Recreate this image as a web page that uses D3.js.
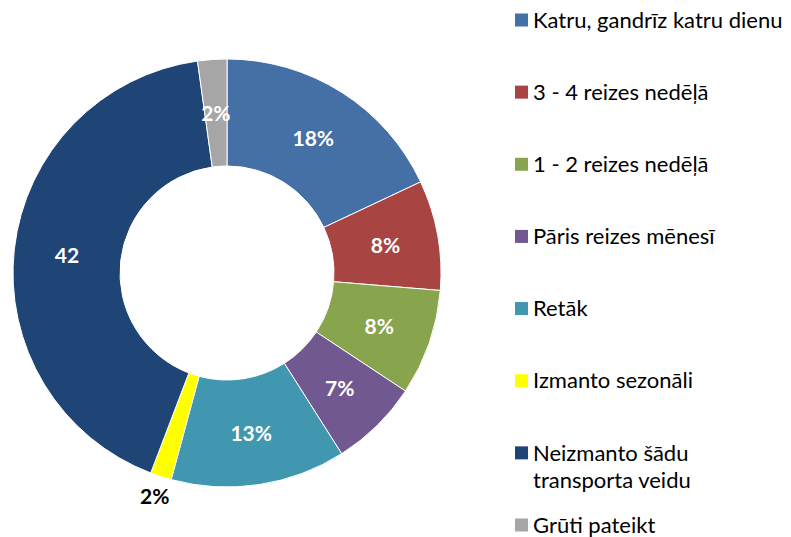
<!DOCTYPE html>
<html>
<head>
<meta charset="utf-8">
<script src="https://cdn.jsdelivr.net/npm/d3@7"></script>
<style>
  html, body { margin: 0; padding: 0; background: #fff; }
  svg { display: block; }
</style>
</head>
<body>
<svg id="chart" width="791" height="537"></svg>
<script>
// ---- data ----
const categories = [
  "Katru, gandrīz katru dienu",
  "3 - 4 reizes nedēļā",
  "1 - 2 reizes nedēļā",
  "Pāris reizes mēnesī",
  "Retāk",
  "Izmanto sezonāli",
  "Neizmanto šādu\ntransporta veidu",
  "Grūti pateikt"
];
const values = [18, 8.3, 8, 6.7, 13.2, 1.6, 42, 2.2];
const valueLabels = ["18%", "8%", "8%", "7%", "13%", "2%", "42", "2%"];
const labelOutside = [false, false, false, false, false, true, false, false];
const colors = ["#4470A5", "#A84542", "#88A44D", "#715890", "#4197AF", "#FFFF00", "#1F4577", "#A6A6A6"];

// ---- layout ----
const svg = d3.select("#chart");
const cx = 227, cy = 273;
const outerR = 214, innerR = 107;
const font = "Lato, 'Open Sans', sans-serif";

const data = categories.map((c, i) => ({ cat: c, value: values[i], label: valueLabels[i], outside: labelOutside[i], color: colors[i] }));

const pie = d3.pie().value(d => d.value).sort(null);
const arcs = pie(data);
const arc = d3.arc().innerRadius(innerR).outerRadius(outerR);
const labelArc = d3.arc().innerRadius(161).outerRadius(161);
const outsideArc = d3.arc().innerRadius(234).outerRadius(234);

const g = svg.append("g").attr("transform", `translate(${cx},${cy})`);

g.selectAll("path.slice")
  .data(arcs)
  .join("path")
  .attr("class", "slice")
  .attr("d", arc)
  .attr("fill", d => d.data.color)
  .attr("stroke", "#fff")
  .attr("stroke-width", 1);

g.selectAll("text.vlabel")
  .data(arcs)
  .join("text")
  .attr("class", "vlabel")
  .attr("transform", d => `translate(${(d.data.outside ? outsideArc : labelArc).centroid(d)})`)
  .attr("text-anchor", "middle")
  .attr("dominant-baseline", "central")
  .attr("font-family", font)
  .attr("font-weight", "bold")
  .attr("font-size", 21)
  .attr("fill", d => d.data.outside ? "#000" : "#fff")
  .text(d => d.data.label);

// ---- legend ----
const legendY = d3.scalePoint()
  .domain(categories)
  .range([20, 525]);

const legend = svg.append("g");
const items = legend.selectAll("g.item")
  .data(data)
  .join("g")
  .attr("class", "item")
  .attr("transform", d => `translate(515,${legendY(d.cat)})`);

items.append("rect")
  .attr("x", 0)
  .attr("y", -6.5)
  .attr("width", 13)
  .attr("height", 13)
  .attr("fill", d => d.color);

items.append("text")
  .attr("x", 18)
  .attr("y", 0)
  .attr("font-family", font)
  .attr("font-size", 22)
  .attr("fill", "#000")
  .selectAll("tspan")
  .data(d => d.cat.split("\n"))
  .join("tspan")
  .attr("x", 18)
  .attr("dy", (t, i) => i === 0 ? "0.35em" : "1.25em")
  .text(t => t);
</script>
</body>
</html>
